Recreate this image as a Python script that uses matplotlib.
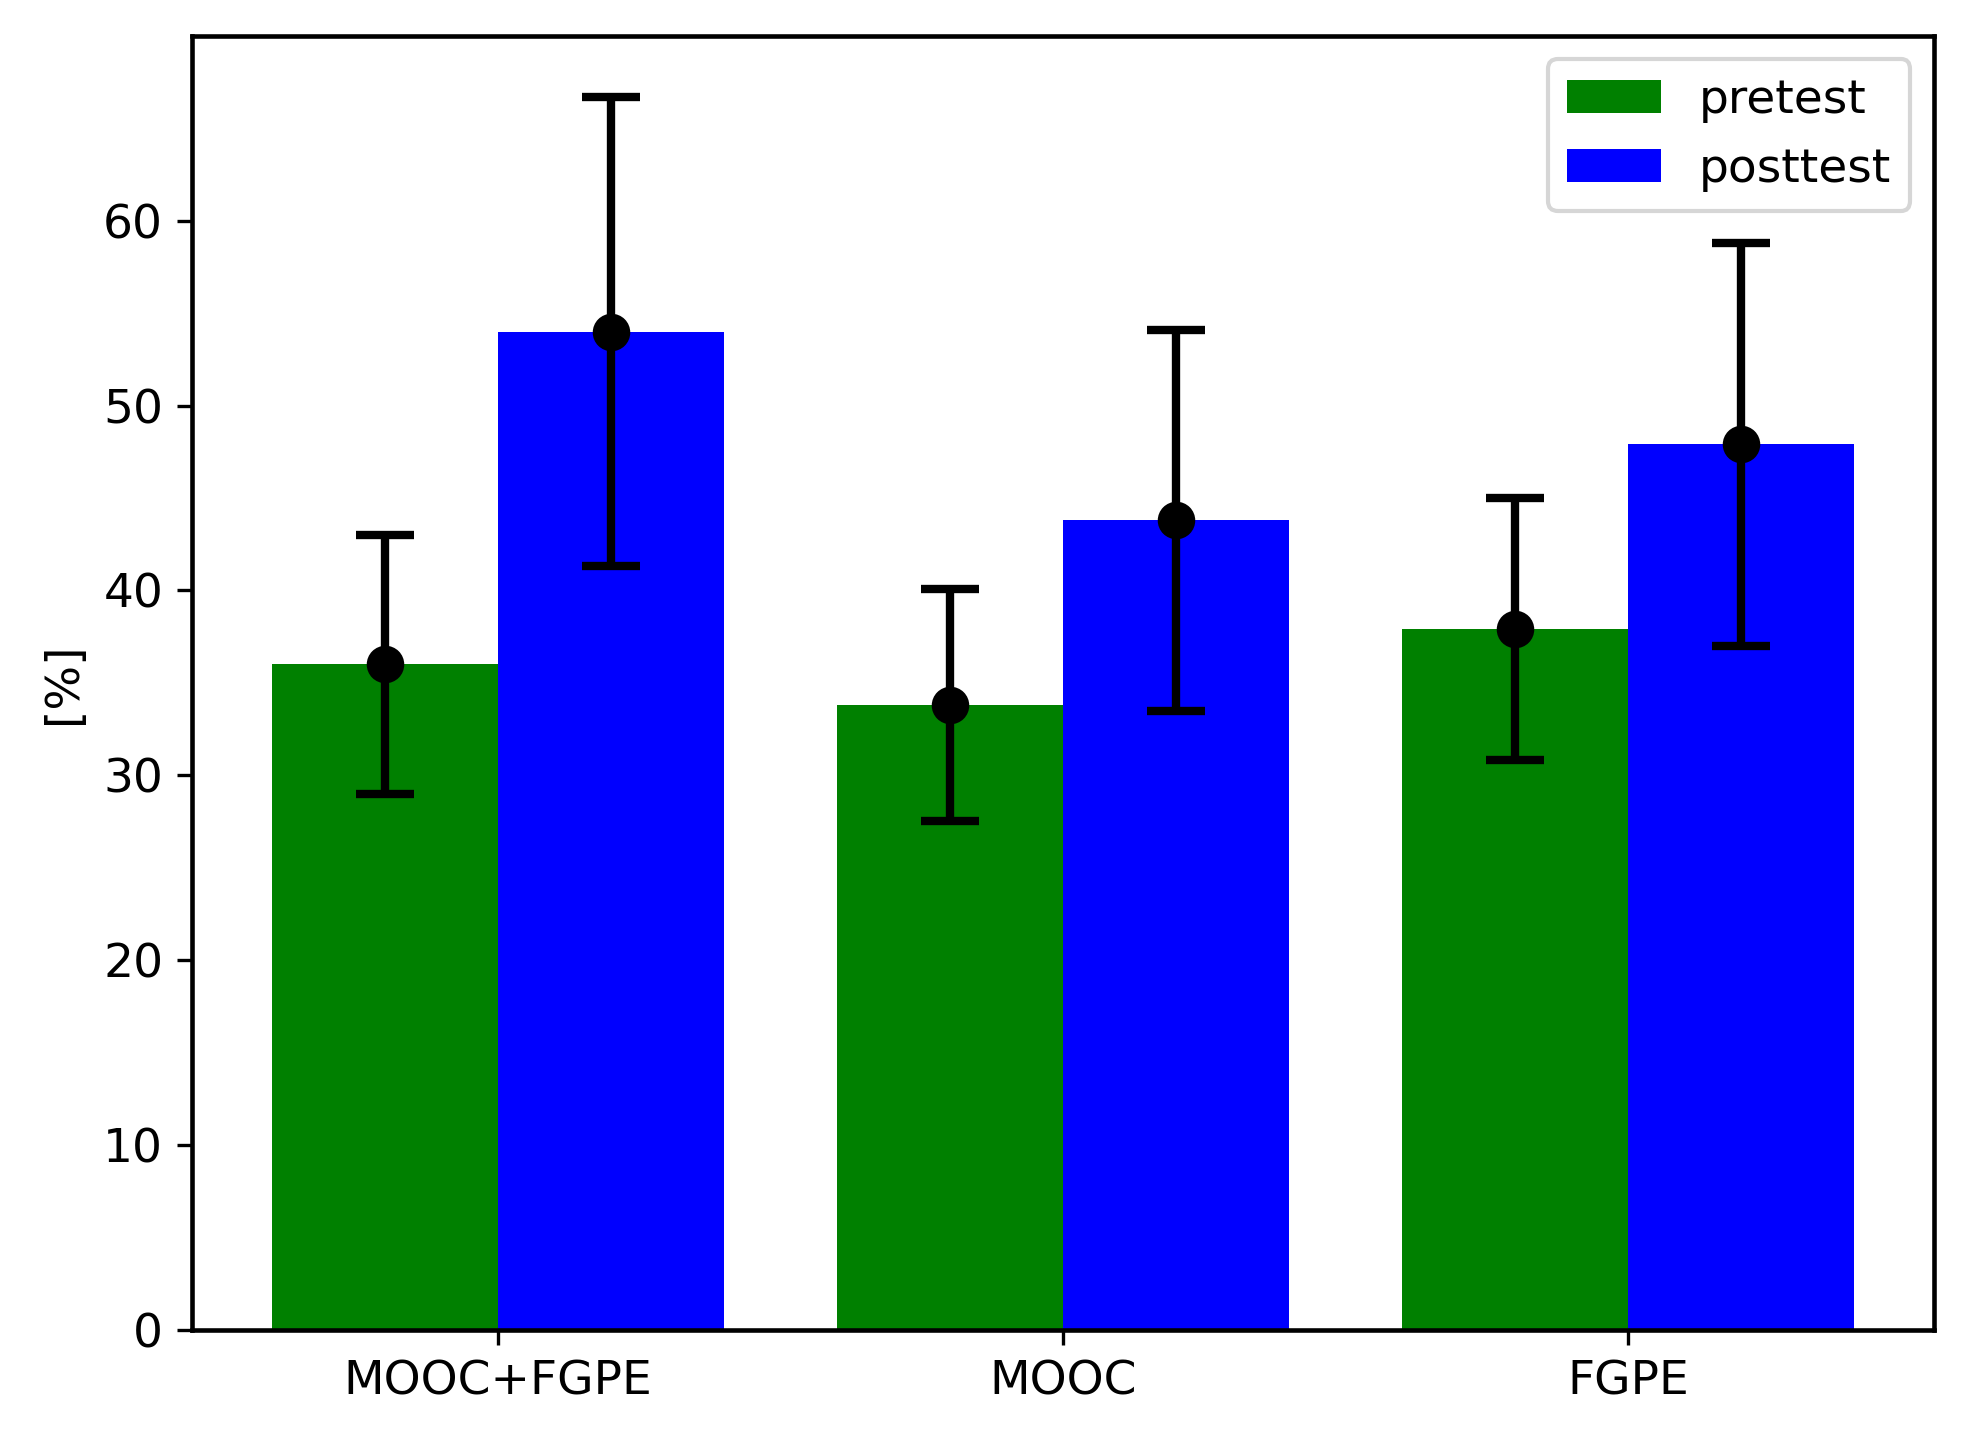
import numpy as np
import matplotlib
matplotlib.use("Agg")
import matplotlib.pyplot as plt

groups = ["MOOC+FGPE", "MOOC", "FGPE"]
pretest = [36.0, 33.8, 37.9]
pretest_err = [7.0, 6.3, 7.1]
posttest = [54.0, 43.8, 47.9]
posttest_err = [12.7, 10.3, 10.9]

plt.rcParams["font.size"] = 11.3
plt.rcParams["axes.linewidth"] = 1.1

fig, ax = plt.subplots(figsize=(1963 / 300, 1430 / 300), dpi=300)
fig.subplots_adjust(left=0.098, right=0.985, bottom=0.070, top=0.975)

x = np.arange(len(groups))
width = 0.4
ax.bar(x - width / 2, pretest, width, color="green", label="pretest")
ax.bar(x + width / 2, posttest, width, color="blue", label="posttest")
ax.errorbar(x - width / 2, pretest, yerr=pretest_err, fmt="o", color="black",
            markersize=8, elinewidth=2.0, capsize=7, capthick=2.0)
ax.errorbar(x + width / 2, posttest, yerr=posttest_err, fmt="o", color="black",
            markersize=8, elinewidth=2.0, capsize=7, capthick=2.0)

ax.set_xticks(x)
ax.set_xticklabels(groups)
ax.set_ylim(0, 70)
ax.set_yticks(range(0, 61, 10))
ax.set_ylabel("[%]")
ax.legend(loc="upper right")

fig.savefig("out.png", dpi=300)
